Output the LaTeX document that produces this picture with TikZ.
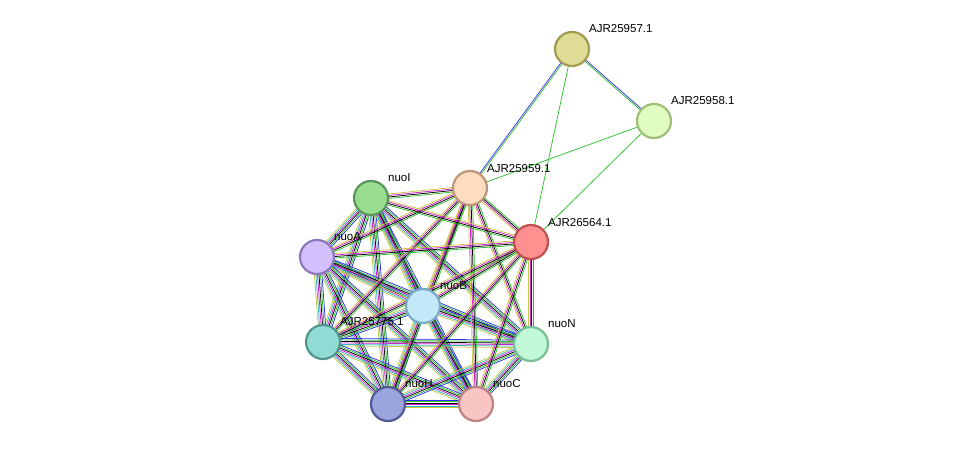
\documentclass[tikz,border=0pt]{standalone}
\usepackage{fontspec}
\setmainfont{Liberation Sans}
\usetikzlibrary{calc}
\definecolor{tm}{HTML}{C8C840}
\definecolor{db}{HTML}{30B8C8}
\definecolor{ex}{HTML}{D020D0}
\definecolor{nb}{HTML}{30C030}
\definecolor{co}{HTML}{3030F0}
\tikzset{
  prot/.style={circle,draw,line width=2.2pt,minimum size=34pt,inner sep=0pt},
  lab/.style={font=\fontsize{11.5}{13}\selectfont,anchor=south west,inner sep=1pt},
  ed/.style={line width=0.75pt}
}
\newcommand{\bnd}[4]{%
  \foreach \cc [count=\ii] in {#4}{%
    \pgfmathsetmacro{\off}{(\ii-0.5-#3/2)*1.5}
    \draw[ed,\cc] ($(#1)!\off pt!90:(#2)$) -- ($(#2)!\off pt!-90:(#1)$);%
  }}
\begin{document}
\begin{tikzpicture}[x=1pt,y=-1pt]
\useasboundingbox (0,0) rectangle (975,449);
\coordinate (q57) at (572,49);
\coordinate (q58) at (654,121);
\coordinate (qP) at (470,188);
\coordinate (qR) at (531,242);
\coordinate (qI) at (371,198);
\coordinate (qA) at (317,257);
\coordinate (qB) at (423,306);
\coordinate (qT) at (323,342);
\coordinate (qN) at (531,344);
\coordinate (qH) at (388,404);
\coordinate (qC) at (476,404);
% outer edges
\bnd{q57}{q58}{2}{nb,co}
\bnd{q57}{qP}{2}{co,nb}
\bnd{q57}{qR}{1}{nb}
\bnd{q58}{qP}{1}{nb}
\bnd{q58}{qR}{1}{nb}
% dense cluster
\foreach \a/\b in {qI/qA,qI/qB,qI/qT,qI/qN,qI/qH,qI/qC,qA/qB,qA/qT,qA/qN,qA/qH,qA/qC,qB/qT,qB/qN,qB/qH,qB/qC,qT/qN,qT/qH,qT/qC,qN/qH,qN/qC,qH/qC}{
  \bnd{\a}{\b}{6}{tm,db,ex,black,nb,co}
}
\foreach \a/\b in {qP/qI,qP/qA,qP/qB,qP/qT,qP/qN,qP/qH,qP/qC,qR/qI,qR/qA,qR/qB,qR/qT,qR/qN,qR/qH,qR/qC,qP/qR}{
  \bnd{\a}{\b}{4}{tm,ex,black,nb}
}
% nodes
\node[prot,fill={rgb,255:red,223;green,220;blue,150},draw={rgb,255:red,160;green,156;blue,80}] (n57) at (q57) {};
\node[prot,fill={rgb,255:red,224;green,252;blue,192},draw={rgb,255:red,160;green,190;blue,120}] (n58) at (q58) {};
\node[prot,fill={rgb,255:red,253;green,220;blue,192},draw={rgb,255:red,190;green,150;blue,120}] (nP) at (qP) {};
\node[prot,fill={rgb,255:red,254;green,144;blue,144},draw={rgb,255:red,190;green,80;blue,80}] (nR) at (qR) {};
\node[prot,fill={rgb,255:red,153;green,222;blue,144},draw={rgb,255:red,90;green,150;blue,90}] (nI) at (qI) {};
\node[prot,fill={rgb,255:red,212;green,192;blue,252},draw={rgb,255:red,140;green,120;blue,190}] (nA) at (qA) {};
\node[prot,fill={rgb,255:red,196;green,232;blue,250},draw={rgb,255:red,120;green,170;blue,200}] (nB) at (qB) {};
\node[prot,fill={rgb,255:red,144;green,220;blue,212},draw={rgb,255:red,80;green,150;blue,140}] (nT) at (qT) {};
\node[prot,fill={rgb,255:red,192;green,248;blue,216},draw={rgb,255:red,120;green,190;blue,150}] (nN) at (qN) {};
\node[prot,fill={rgb,255:red,156;green,164;blue,224},draw={rgb,255:red,80;green,90;blue,150}] (nH) at (qH) {};
\node[prot,fill={rgb,255:red,248;green,196;blue,196},draw={rgb,255:red,190;green,130;blue,130}] (nC) at (qC) {};
% labels
\node[lab] (l57) at (588,34) {AJR25957.1};
\node[lab] (l58) at (670,106) {AJR25958.1};
\node[lab] (lP) at (486,174) {AJR25959.1};
\node[lab] (lR) at (547,228) {AJR26564.1};
\node[lab] (lI) at (387,183) {nuoI};
\node[lab] (lA) at (333,242) {nuoA};
\node[lab] (lB) at (439,291) {nuoB};
\node[lab] (lT) at (339,327) {AJR25775.1};
\node[lab] (lN) at (547,329) {nuoN};
\node[lab] (lH) at (404,389) {nuoH};
\node[lab] (lC) at (492,389) {nuoC};
\end{tikzpicture}
\end{document}
